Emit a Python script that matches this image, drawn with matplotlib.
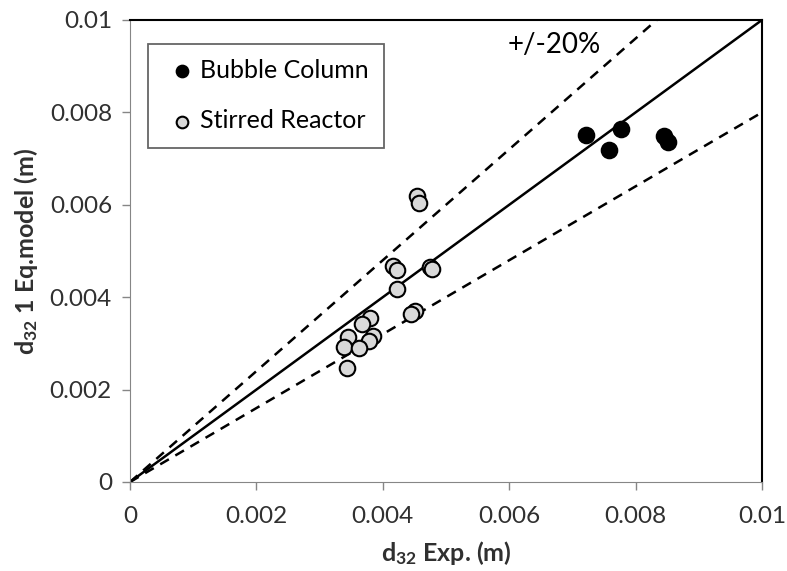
import matplotlib.pyplot as plt
import numpy as np

plt.rcParams['font.family'] = ['Lato', 'DejaVu Sans']
plt.rcParams['mathtext.default'] = 'regular'

# Bubble column data (exp, model)
bc_exp = [0.00722, 0.00777, 0.00758, 0.00845, 0.00851]
bc_mod = [0.00751, 0.00764, 0.00719, 0.00749, 0.00736]

# Stirred reactor data (exp, model)
sr_exp = [0.00454, 0.00457, 0.00416, 0.00422, 0.00475, 0.00478, 0.00422, 0.00451,
          0.00445, 0.00380, 0.00367, 0.00384, 0.00378, 0.00345, 0.00339, 0.00362, 0.00343]
sr_mod = [0.00619, 0.00604, 0.00468, 0.00459, 0.00466, 0.00462, 0.00418, 0.00370,
          0.00364, 0.00355, 0.00342, 0.00316, 0.00305, 0.00314, 0.00292, 0.00290, 0.00247]

ticks = [0, 0.002, 0.004, 0.006, 0.008, 0.01]
tick_labels = ['0', '0.002', '0.004', '0.006', '0.008', '0.01']

fig = plt.figure(figsize=(7.87, 5.71), dpi=100)
ax = fig.add_axes([130/787, 1 - 482/571, 632/787, 462/571])

xl = np.array([0, 0.01])
ax.plot(xl, xl, color='black', lw=1.8, zorder=2)
ax.plot(xl, 1.2*xl, color='black', lw=1.8, ls=(0, (4, 3)), zorder=2)
ax.plot(xl, 0.8*xl, color='black', lw=1.8, ls=(0, (4, 3)), zorder=2)

ax.scatter(bc_exp, bc_mod, s=125, c='black', edgecolors='black', linewidths=1.5,
           label='Bubble Column', zorder=3)
ax.scatter(sr_exp, sr_mod, s=125, c='#d9d9d9', edgecolors='black', linewidths=1.5,
           label='Stirred Reactor', zorder=3)

ax.text(0.00671, 0.00945, '+/-20%', fontsize=20, ha='center', va='center')

ax.set_xlim(0, 0.01)
ax.set_ylim(0, 0.01)
ax.set_xticks(ticks)
ax.set_xticklabels(tick_labels)
ax.set_yticks(ticks)
ax.set_yticklabels(tick_labels)
ax.tick_params(labelsize=17.5, color='#868686', length=6, width=1, labelcolor='#303030')
ax.tick_params(axis='x', pad=11)
ax.tick_params(axis='y', pad=7)

for s in ['left', 'bottom']:
    ax.spines[s].set_color('#868686')
for s in ['top', 'right']:
    ax.spines[s].set_color('black')
    ax.spines[s].set_linewidth(1.5)

ax.set_xlabel('d$_{32}$ Exp. (m)', fontsize=18, fontweight='bold', color='#303030', labelpad=9)
ax.set_ylabel('d$_{32}$ 1 Eq.model (m)', fontsize=18, fontweight='bold', color='#303030', labelpad=7)

leg = ax.legend(loc='upper left', bbox_to_anchor=(18/632, 1 - 24/462), fontsize=18,
                frameon=True, fancybox=False, edgecolor='#404040', markerscale=0.75,
                handletextpad=0.0, labelspacing=1.1, borderpad=0.6, handlelength=1.5,
                borderaxespad=0)
leg.get_frame().set_linewidth(1.3)

fig.savefig('out.png', dpi=100)
